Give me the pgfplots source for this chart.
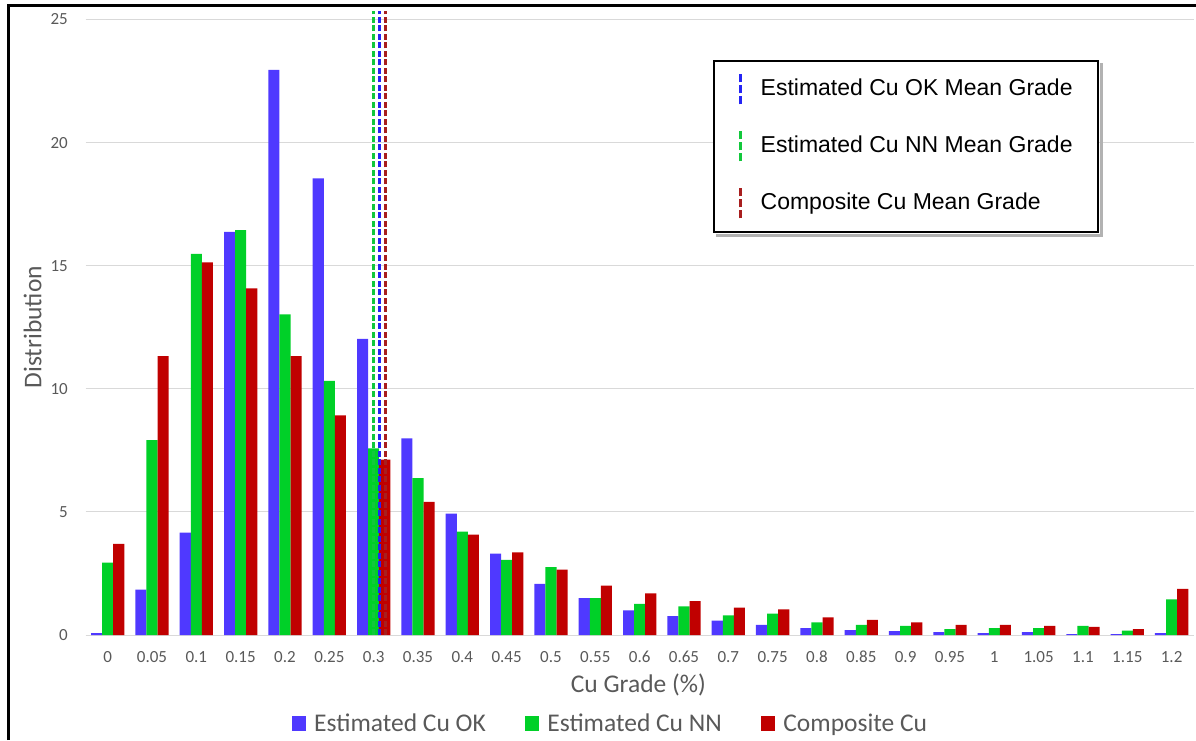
\documentclass[border=0pt]{standalone}
\usepackage{pgfplots}
\pgfplotsset{compat=1.18}
\usepackage{pgfplotstable}
\usepackage{fontspec}
\setmainfont{Carlito}
\newfontfamily\arialfont{Liberation Sans}
\definecolor{okblue}{HTML}{4F39FF}
\definecolor{nngreen}{HTML}{00D028}
\definecolor{cored}{HTML}{C00000}
\definecolor{lblue}{HTML}{2424F4}
\definecolor{lgreen}{HTML}{12C83C}
\definecolor{lred}{HTML}{A81E1E}
\definecolor{txt}{HTML}{595959}
\definecolor{gridc}{HTML}{D9D9D9}

\pgfplotstableread{
x ok nn comp
0 0.08 2.94 3.70
1 1.84 7.92 11.33
2 4.16 15.48 15.14
3 16.37 16.45 14.08
4 22.95 13.02 11.33
5 18.55 10.32 8.92
6 12.03 7.58 7.12
7 7.99 6.37 5.41
8 4.93 4.20 4.08
9 3.31 3.05 3.36
10 2.08 2.76 2.66
11 1.50 1.50 2.01
12 1.00 1.26 1.69
13 0.77 1.16 1.38
14 0.58 0.80 1.11
15 0.41 0.87 1.04
16 0.28 0.51 0.72
17 0.20 0.41 0.61
18 0.16 0.37 0.51
19 0.12 0.24 0.41
20 0.08 0.28 0.41
21 0.12 0.28 0.37
22 0.04 0.37 0.33
23 0.04 0.18 0.24
24 0.08 1.45 1.87
}\datatable

\pgfplotsset{
  sqlegend/.style={legend image code/.code={\fill[##1] (0pt,0pt) rectangle (14pt,14.7pt);}},
}

\begin{document}
\begin{tikzpicture}[x=1pt,y=1pt]
\path[use as bounding box] (0,0) rectangle (1196,740);
\begin{axis}[
  at={(85.5pt,105pt)}, anchor=south west,
  scale only axis, width=1108.3pt, height=615.5pt,
  xmin=-0.5, xmax=24.5, ymin=0, ymax=25,
  enlargelimits=false,
  axis x line*=bottom, axis y line*=left,
  axis line style={-},
  x axis line style={draw=gridc, line width=1pt},
  y axis line style={draw=none},
  ymajorgrids, grid style={gridc, line width=1pt},
  major tick length=0pt,
  xtick={0,...,24},
  xticklabels={0,0.05,0.1,0.15,0.2,0.25,0.3,0.35,0.4,0.45,0.5,0.55,0.6,0.65,0.7,0.75,0.8,0.85,0.9,0.95,1,1.05,1.1,1.15,1.2},
  ytick={0,5,...,25},
  /pgf/number format/assume math mode=true,
  ticklabel style={font=\fontsize{17}{20}\selectfont, text=txt, inner sep=0pt},
  xticklabel style={anchor=base, yshift=-27.7pt},
  yticklabel style={anchor=east, xshift=-17.5pt},
  xlabel={Cu Grade (\%)}, ylabel={Distribution},
  label style={font=\fontsize{25.5}{30}\selectfont, text=txt},
  xlabel style={at={(axis description cs:0.4988,0)}, anchor=base, yshift=-57pt},
  ylabel style={at={(axis description cs:-0.0478,0.5)}, anchor=center},
  legend columns=3,
  legend cell align=left,
  legend style={at={(axis description cs:0.1863,-0.143)}, anchor=west,
    draw=none, fill=none, inner sep=0pt,
    font=\fontsize{25.5}{30}\selectfont, text=txt,
    nodes={inner sep=0pt, anchor=base west},
    /tikz/every odd column/.append style={column sep=8pt},
    /tikz/every even column/.append style={column sep=39.5pt}},
]
\addplot[ybar, bar width=11.1pt, bar shift=-11.1pt, fill=okblue, draw=none, sqlegend] table[x=x, y=ok] {\datatable};
\addlegendentry{Estimated Cu OK}
\addplot[ybar, bar width=11.1pt, bar shift=0pt, fill=nngreen, draw=none, sqlegend] table[x=x, y=nn] {\datatable};
\addlegendentry{Estimated Cu NN}
\addplot[ybar, bar width=11.1pt, bar shift=11.1pt, fill=cored, draw=none, sqlegend] table[x=x, y=comp] {\datatable};
\addlegendentry{Composite Cu}
\end{axis}

\begin{axis}[
  at={(85.5pt,105pt)}, anchor=south west,
  scale only axis, width=1108.3pt, height=615.5pt,
  xmin=-0.5, xmax=24.5, ymin=0, ymax=25,
  enlargelimits=false, hide axis, clip=false,
  legend cell align=left,
  legend style={name=meanlgd, at={(axis description cs:0.5659,0.9345)}, anchor=north west,
    draw=black, line width=2pt, fill=white,
    inner xsep=25pt, inner ysep=12pt,
    font=\arialfont\fontsize{23}{27}\selectfont, text=black,
    row sep=24pt,
    nodes={inner sep=0pt, anchor=base west},
    /tikz/every odd column/.append style={column sep=19pt}},
  legend image code/.code={\draw[#1, line width=3pt, dash pattern=on 8pt off 3pt] (0pt,-9pt) -- (0pt,21pt);},
]
\addplot[lblue, dash pattern=on 6pt off 2.5pt, line width=2.8pt] coordinates {(6.14,0) (6.14,25.35)};
\addlegendentry{Estimated Cu OK Mean Grade}
\addplot[lgreen, dash pattern=on 6pt off 2.5pt, line width=2.8pt] coordinates {(5.99,0) (5.99,25.35)};
\addlegendentry{Estimated Cu NN Mean Grade}
\addplot[lred, dash pattern=on 6pt off 2.5pt, line width=2.8pt] coordinates {(6.27,0) (6.27,25.35)};
\addlegendentry{Composite Cu Mean Grade}
\end{axis}
% soft shadow of the mean-grade legend box
\fill[black!30] ([shift={(1pt,-3pt)}]meanlgd.north east) rectangle ([shift={(4pt,-4pt)}]meanlgd.south east);
\fill[black!30] ([shift={(3pt,-1pt)}]meanlgd.south west) rectangle ([shift={(1pt,-4pt)}]meanlgd.south east);
\draw[line width=3.5pt] (8.7,0) -- (8.7,734.5);
\draw[line width=2.5pt] (7,734.5) -- (1196,734.5);
\end{tikzpicture}
\end{document}
